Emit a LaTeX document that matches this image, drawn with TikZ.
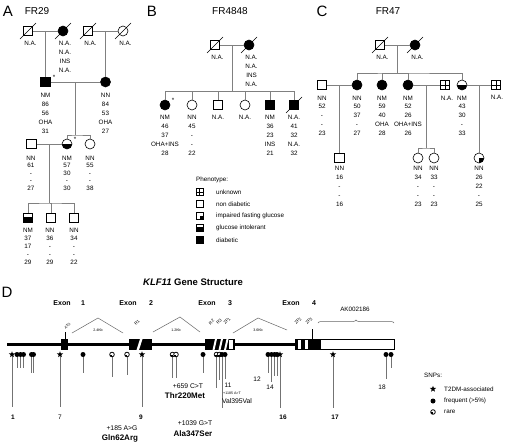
\documentclass[tikz,border=0pt]{standalone}
\usepackage{fontspec}
\setmainfont{Liberation Sans}
\usetikzlibrary{calc,shapes.geometric,decorations.pathreplacing}
\newcommand\person[7]{%
  \node[#4] (#1) at (#2,#3) {};
  \node[lab, anchor=north, font=\fontsize{6.3}{#6}\selectfont] (#1l) at (#5) {#7};}
\newcommand\dcsd[1]{\draw[line width=0.6pt] ($(#1.center)+(-8,8)$) -- ($(#1.center)+(8,-8)$);}
\begin{document}
\begin{tikzpicture}[x=1pt,y=-1pt,
  sq/.style={draw=black,line width=0.6pt,rectangle,minimum size=9.5pt,inner sep=0pt,fill=white},
  ci/.style={draw=black,line width=0.6pt,circle,minimum size=10pt,inner sep=0pt,fill=white},
  aff/.style={fill=black},
  gi/.default=0.5,
  gi/.style={path picture={\fill[black] ($(path picture bounding box.south west)!#1!(path picture bounding box.north west)$) rectangle (path picture bounding box.south east);}},
  ifg/.style={path picture={\fill[black] (path picture bounding box.center) rectangle (path picture bounding box.south east);}},
  unk/.style={path picture={\draw[line width=0.6pt] (path picture bounding box.north) -- (path picture bounding box.south) (path picture bounding box.west) -- (path picture bounding box.east);}},
  leg/.style={sq,minimum size=7pt},
  ped/.style={draw=black!50,line width=0.7pt},
  lab/.style={inner sep=0pt,align=center,text=black},
  txt/.style={inner sep=0pt,font=\fontsize{6.3}{7}\selectfont},
  panel/.style={inner sep=0pt,font=\fontsize{15}{15}\selectfont},
  fam/.style={inner sep=0pt,font=\fontsize{10}{10}\selectfont},
  dom/.style={inner sep=0pt,font=\fontsize{4.3}{4.3}\selectfont,rotate=45},
  kb/.style={inner sep=0pt,font=\fontsize{3.6}{3.6}\selectfont},
  roof/.style={draw=black!60,line width=0.5pt},
  sstar/.style={star,star points=5,star point ratio=2.3,fill=black,inner sep=0pt,minimum size=6.5pt},
  sdot/.style={circle,fill=black,inner sep=0pt,minimum size=5pt},
  srare/.style={circle,draw=black,line width=0.8pt,fill=white,inner sep=0pt,minimum size=4.6pt,path picture={\fill[black] (path picture bounding box.center) rectangle (path picture bounding box.south west);}},
  stem/.style={draw=black!55,line width=0.6pt},
  snum/.style={inner sep=0pt,font=\fontsize{6.5}{7}\selectfont},
  snumb/.style={inner sep=0pt,font=\fontsize{6.5}{7}\selectfont\bfseries},
  mut/.style={inner sep=0pt,font=\fontsize{6.8}{7}\selectfont},
  mutb/.style={inner sep=0pt,font=\fontsize{8}{8}\selectfont\bfseries}
]
\useasboundingbox (0,0) rectangle (508,442);
\fill[white] (0,0) rectangle (508,442);

% ================= Panel A =================
\node[panel] (pA) at (8,11) {A};
\node[fam] (fA) at (37,11) {FR29};
\person{a1}{28}{31}{sq}{30.5,40.5}{9}{N.A.}
\person{a2}{63}{31}{ci,aff}{65,40.5}{9}{N.A.\\N.A.\\INS\\N.A.}
\person{a3}{88}{31}{sq}{90.5,40.5}{9}{N.A.}
\person{a4}{123}{31}{ci}{125.5,40.5}{9}{N.A.}
\dcsd{a1}\dcsd{a2}\dcsd{a3}\dcsd{a4}
\person{a5}{45.5}{82}{sq,aff}{45.5,92.5}{9}{NM\\86\\56\\OHA\\31}
\person{a6}{105.5}{82}{ci,aff}{105.5,92.5}{9}{NN\\84\\53\\OHA\\27}
\node[txt] (stA1) at (54,77) {*};
\person{a7}{31.5}{144}{sq}{31,155.5}{7.6}{NN\\61\\-\\-\\27}
\person{a8}{67}{144}{ci,gi}{67,155.5}{7.6}{NM\\57\\30\\-\\30}
\person{a9}{90}{144}{ci}{90,155.5}{7.6}{NN\\55\\-\\-\\38}
\node[txt] (stA2) at (75,139) {*};
\person{a10}{28}{218}{sq,gi=0.62}{28,227.5}{8}{NM\\37\\17\\-\\29}
\person{a11}{51}{218}{sq}{50,227.5}{8}{NN\\36\\-\\-\\29}
\person{a12}{74}{218}{sq}{74,227.5}{8}{NN\\34\\-\\-\\22}
\coordinate (mA1) at (45.5,31);
\coordinate (mA2) at (105.5,31);
\coordinate (mA3) at (75.5,82);
\coordinate (sA1) at (75.5,135);
\coordinate (mA4) at (49.5,144);
\coordinate (sA2) at (49.5,203);
\draw[ped] (a1) -- (a2);
\draw[ped] (a3) -- (a4);
\draw[ped] (mA1) -- (a5);
\draw[ped] (mA2) -- (a6);
\draw[ped] (a5) -- (a6);
\draw[ped] (mA3) -- (sA1);
\draw[ped] (a8) |- (sA1) -| (a9);
\draw[ped] (a7) -- (a8);
\draw[ped] (mA4) -- (sA2);
\draw[ped] (a10) |- (sA2) -| (a12);
\draw[ped] (a11) |- (sA2);

% ================= Panel B =================
\node[panel] (pB) at (152,11) {B};
\node[fam] (fB) at (230,11) {FR4848};
\person{b1}{215}{45}{sq}{217.5,54.5}{9}{N.A.}
\person{b2}{249}{45}{ci,aff}{251.5,54.5}{9}{N.A.\\N.A.\\INS\\N.A.}
\dcsd{b1}\dcsd{b2}
\person{b3}{165}{105}{ci,aff}{165,114.5}{9}{NM\\46\\37\\OHA+INS\\28}
\node[txt] (stB) at (173,100) {*};
\person{b4}{192}{105}{ci}{192,114.5}{9}{NN\\45\\-\\-\\22}
\person{b5}{218}{105}{sq}{218,114.5}{9}{N.A.}
\person{b6}{245}{105}{ci}{245,114.5}{9}{N.A.}
\person{b7}{270}{105}{sq,aff}{270,114.5}{9}{NM\\36\\23\\INS\\21}
\person{b8}{294}{105}{sq,aff}{294,114.5}{9}{N.A.\\41\\32\\N.A.\\32}
\dcsd{b8}
\coordinate (mB) at (232,45);
\coordinate (sB) at (232,91);
\draw[ped] (b1) -- (b2);
\draw[ped] (mB) -- (sB);
\draw[ped] (b3) |- (sB) -| (b8);
\draw[ped] (b4) |- (sB);
\draw[ped] (b5) |- (sB);
\draw[ped] (b6) |- (sB);
\draw[ped] (b7) |- (sB);

% ================= Panel C =================
\node[panel] (pC) at (322,11) {C};
\node[fam] (fC) at (388,11) {FR47};
\person{c1}{380}{45}{sq}{382.5,54.5}{9}{N.A.}
\person{c2}{415}{45}{ci,aff}{417.5,54.5}{9}{N.A.}
\dcsd{c1}\dcsd{c2}
\person{c3}{322}{85}{sq}{322,95.5}{8.8}{NN\\52\\-\\-\\23}
\person{c4}{357}{85}{ci,aff}{357,95.5}{8.8}{NN\\50\\37\\-\\27}
\person{c5}{382}{85}{ci,aff}{382,95.5}{8.8}{NM\\59\\40\\OHA\\28}
\person{c6}{408}{85}{ci,aff}{408,95.5}{8.8}{NM\\52\\26\\OHA+INS\\26}
\person{c7}{445}{85}{sq,unk}{447,95.5}{8.8}{N.A.}
\person{c8}{462}{85}{ci,gi}{462,95.5}{8.8}{NM\\43\\30\\-\\33}
\person{c9}{496}{85}{sq,unk}{497,95}{8.8}{N.A.}
\person{c10}{339.5}{158}{sq}{339.5,165.5}{9}{NN\\16\\-\\-\\16}
\person{c11}{418}{158}{ci}{418,165.5}{9}{NN\\34\\-\\-\\23}
\person{c12}{434}{158}{ci}{434,165.5}{9}{NN\\33\\-\\-\\23}
\person{c13}{479}{158}{ci,ifg}{479,165.5}{9}{NN\\26\\22\\-\\25}
\coordinate (mC) at (397.5,45);
\coordinate (sC) at (397.5,73);
\coordinate (mC1) at (339.5,85);
\coordinate (mC2) at (426,85);
\coordinate (sC2) at (426,148);
\coordinate (mC3) at (479,85);
\draw[ped] (c1) -- (c2);
\draw[ped] (mC) -- (sC);
\draw[ped] (c4) |- (sC) -| (c8);
\draw[ped] (c5) |- (sC);
\draw[ped] (c6) |- (sC);
\draw[ped] (c3) -- (c4);
\draw[ped] (c6) -- (c7);
\draw[ped] (c8) -- (c9);
\draw[ped] (mC1) -- (c10);
\draw[ped] (mC2) -- (sC2);
\draw[ped] (c11) |- (sC2) -| (c12);
\draw[ped] (mC3) -- (c13);

% ================= Phenotype legend =================
\node[txt, anchor=west] (ph) at (196,180) {Phenotype:};
\node[leg,unk] (l1) at (199.5,192) {};
\node[leg] (l2) at (199.5,204) {};
\node[leg,ifg] (l3) at (199.5,216) {};
\node[leg,gi=0.7] (l4) at (199.5,228) {};
\node[leg,aff] (l5) at (199.5,240) {};
\node[txt, anchor=west] (t1) at (216,192) {unknown};
\node[txt, anchor=west] (t2) at (216,204) {non diabetic};
\node[txt, anchor=west] (t3) at (216,216) {impaired fasting glucose};
\node[txt, anchor=west] (t4) at (216,228) {glucose intolerant};
\node[txt, anchor=west] (t5) at (216,240) {diabetic};

% ================= Panel D =================
\node[panel] (pD) at (7,292) {D};
\node[inner sep=0pt,font=\fontsize{9.5}{10}\selectfont\bfseries] (title) at (193,282) {\textit{KLF11} Gene Structure};
\foreach \n/\x/\t in {e1/62/Exon, n1/83/1, e2/128/Exon, n2/151/2, e3/207/Exon, n3/230/3, e4/291/Exon, n4/314/4}
  \node[inner sep=0pt,font=\fontsize{7}{7}\selectfont\bfseries] (x\n) at (\x,303) {\t};

% gene line and exons
\coordinate (g0) at (7,344.5);
\coordinate (g1) at (295,344.5);
\draw[line width=2.2pt] (g0) -- (g1);
\fill[black] (61,339) rectangle (68,350);
\fill[black] (129,339) rectangle (152,350);
\fill[white] (136.5,350) -- (139,350) -- (142.5,339) -- (140,339) -- cycle;
\fill[black] (205,339) rectangle (235,350);
\foreach \s in {212.5,218.5,224}
  \fill[white] (\s,350) -- (\s+2,350) -- (\s+4.5,339) -- (\s+2.5,339) -- cycle;
\fill[white] (228.5,339.8) rectangle (232.5,349.2);
\fill[black] (295,339) rectangle (320,350);
\fill[white] (298,339.8) rectangle (300.5,349.2);
\fill[white] (304.5,339.8) rectangle (307.5,349.2);
\draw[line width=0.6pt] (320,339.3) rectangle (394,349.7);
\draw[line width=0.5pt] (65,332) -- (65,339);
\draw[line width=0.5pt] (312,329) -- (312,339);

% domain labels
\node[dom, font=\fontsize{3.6}{3.6}\selectfont] (dA) at (67.5,326) {ATG};
\node[dom] (dR1) at (137,323) {R1};
\node[dom] (dR2) at (211.5,322) {R2};
\node[dom] (dR3) at (219,322) {R3};
\node[dom] (dZ1) at (227,321) {ZF1};
\node[dom] (dZ2) at (298,321) {ZF2};
\node[dom] (dZ3) at (309,321) {ZF3};

% introns
\draw[roof] (72,333) -- (98,318) -- (123,333);
\node[kb] (k1) at (98,330) {2.4Kb};
\draw[roof] (153,332) -- (180,317) -- (200,332);
\node[kb] (k2) at (176,330) {1.2Kb};
\draw[roof] (233,333) -- (258,318) -- (287,330);
\node[kb] (k3) at (258,330) {3.6Kb};
\draw[roof, decorate, decoration={brace, amplitude=3pt}] (318,323) -- (394,323);
\node[txt] (ak) at (355,309) {AK002186};

% SNPs
\foreach \n/\x/\t/\e in {1/12/sstar/407, 2/17/sdot/368, 3/20.5/sdot/368, 4/23.5/sdot/368,
   5/31.5/sdot/373, 6/33.5/sdot/373, 7/60/sstar/407, 8/83/sdot/373, 9/112/srare/377,
   10/127/srare/375, 11/142/sstar/407, 12/172.5/srare/378, 13/176/srare/378, 14/203/sdot/373,
   15/216.5/srare/388, 16/219.5/srare/380, 17/222/sdot/408, 18/225/sdot/379, 19/268/sdot/373,
   20/271.5/sdot/382, 21/274.5/sdot/376, 22/277/sdot/376, 23/280/sstar/408, 24/333/sstar/408,
   25/386/sdot/379, 26/391/sdot/368}
{
  \coordinate (se\n) at (\x,\e);
  \draw[stem] (\x,354.5) -- (se\n);
  \node[\t] (snp\n) at (\x,354.5) {};
}

\node[snumb] (L1) at (13,417) {1};
\node[snum] (L7) at (60,417) {7};
\node[snumb] (L9) at (141,417) {9};
\node[mut] (m9a) at (122,428) {+185 A>G};
\node[mutb] (m9b) at (120,438) {Gln62Arg};
\node[mut] (m8a) at (188,386) {+659 C>T};
\node[mutb] (m8b) at (185,396) {Thr220Met};
\node[snum] (L11) at (228,385) {11};
\node[kb] (m11a) at (232,393) {+1185 A>T};
\node[mut] (m11b) at (237,401) {Val395Val};
\node[mut] (m10a) at (195,423) {+1039 G>T};
\node[mutb] (m10b) at (193,434) {Ala347Ser};
\node[snum] (L12) at (257,379) {12};
\node[snum] (L14) at (270,387) {14};
\node[snumb] (L16) at (283,417) {16};
\node[snumb] (L17) at (335,417) {17};
\node[snum] (L18) at (382,387) {18};

% SNP legend
\node[txt, anchor=west] (snps) at (424,375) {SNPs:};
\node[sstar] (ls1) at (433,389) {};
\node[sdot] (ls2) at (433,401) {};
\node[srare] (ls3) at (433,412) {};
\node[txt, anchor=west] (lt1) at (444,389) {T2DM-associated};
\node[txt, anchor=west] (lt2) at (444,401) {frequent (>5\%)};
\node[txt, anchor=west] (lt3) at (444,412) {rare};
\end{tikzpicture}
\end{document}
